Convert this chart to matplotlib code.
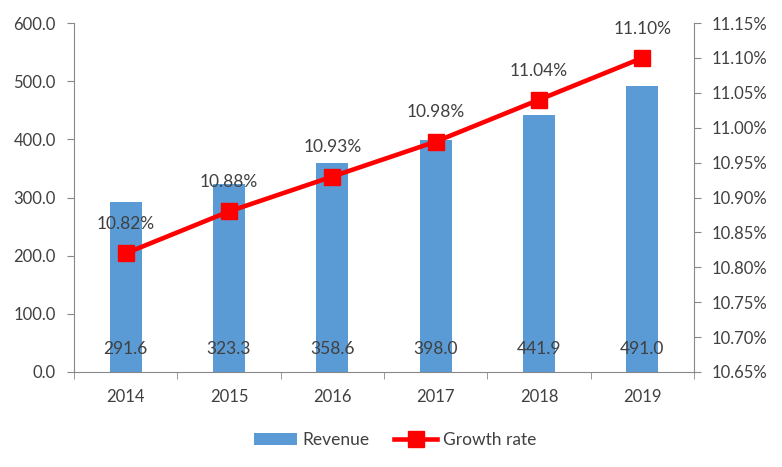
import matplotlib
matplotlib.use("Agg")
import matplotlib.pyplot as plt
from matplotlib.ticker import FuncFormatter, FixedLocator
import numpy as np

years = ["2014", "2015", "2016", "2017", "2018", "2019"]
revenue = [291.6, 323.3, 358.6, 398.0, 441.9, 491.0]
growth = [10.82, 10.88, 10.93, 10.98, 11.04, 11.10]

plt.rcParams['font.family'] = ['Lato', 'DejaVu Sans']
txt = '#404040'
axc = '#888888'

fig = plt.figure(figsize=(7.82, 4.67), dpi=100)
ax = fig.add_axes([74/782, 1-372/467, 620/782, 349/467])
x = np.arange(len(years))
bars = ax.bar(x, revenue, width=0.31, color='#5B9BD5', label='Revenue', zorder=2)
ax.set_xlim(-0.5, len(years)-0.5)
ax.set_ylim(0, 600)
ax.set_yticks(np.arange(0, 601, 100))
ax.yaxis.set_major_formatter(FuncFormatter(lambda v, p: f"{v:.1f}"))
ax.set_xticks(x)
ax.set_xticklabels(years)
ax.xaxis.set_minor_locator(FixedLocator(np.arange(-0.5, len(years), 1.0)))
ax.tick_params(axis='x', which='major', length=0, pad=12, labelsize=12, labelcolor=txt)
ax.tick_params(axis='x', which='minor', length=5, color=axc, direction='out')
ax.tick_params(axis='y', length=5, color=axc, labelsize=12, labelcolor=txt, pad=8)
for s in ['top', 'right']:
    ax.spines[s].set_visible(False)
for s in ['left', 'bottom']:
    ax.spines[s].set_color(axc)
for xi, v in zip(x, revenue):
    ax.text(xi, 40, f"{v:.1f}", ha='center', va='center', fontsize=12.5, color=txt, zorder=5)

ax2 = ax.twinx()
ax2.set_ylim(10.65, 11.15)
ax2.set_yticks(np.round(np.arange(10.65, 11.151, 0.05), 2))
ax2.yaxis.set_major_formatter(FuncFormatter(lambda v, p: f"{v:.2f}%"))
ax2.tick_params(axis='y', length=5, color=axc, labelsize=12, labelcolor=txt, pad=8)
for s in ['top', 'left', 'bottom']:
    ax2.spines[s].set_visible(False)
ax2.spines['right'].set_color(axc)
line, = ax2.plot(x, growth, color='#FF0000', lw=3.3, marker='s', markersize=12,
                 label='Growth rate', zorder=3)
for xi, g in zip(x, growth):
    ax2.annotate(f"{g:.2f}%", (xi, g), xytext=(0, 21), textcoords='offset points',
                 ha='center', va='center', fontsize=12.5, color=txt)

fig.legend([bars, line], ['Revenue', 'Growth rate'], loc='center',
           bbox_to_anchor=(395/782, 1-440/467), ncol=2, frameon=False,
           fontsize=12.5, labelcolor=txt, handlelength=2.5, columnspacing=1.4,
           handletextpad=0.3)

fig.savefig("out.png", dpi=100)
